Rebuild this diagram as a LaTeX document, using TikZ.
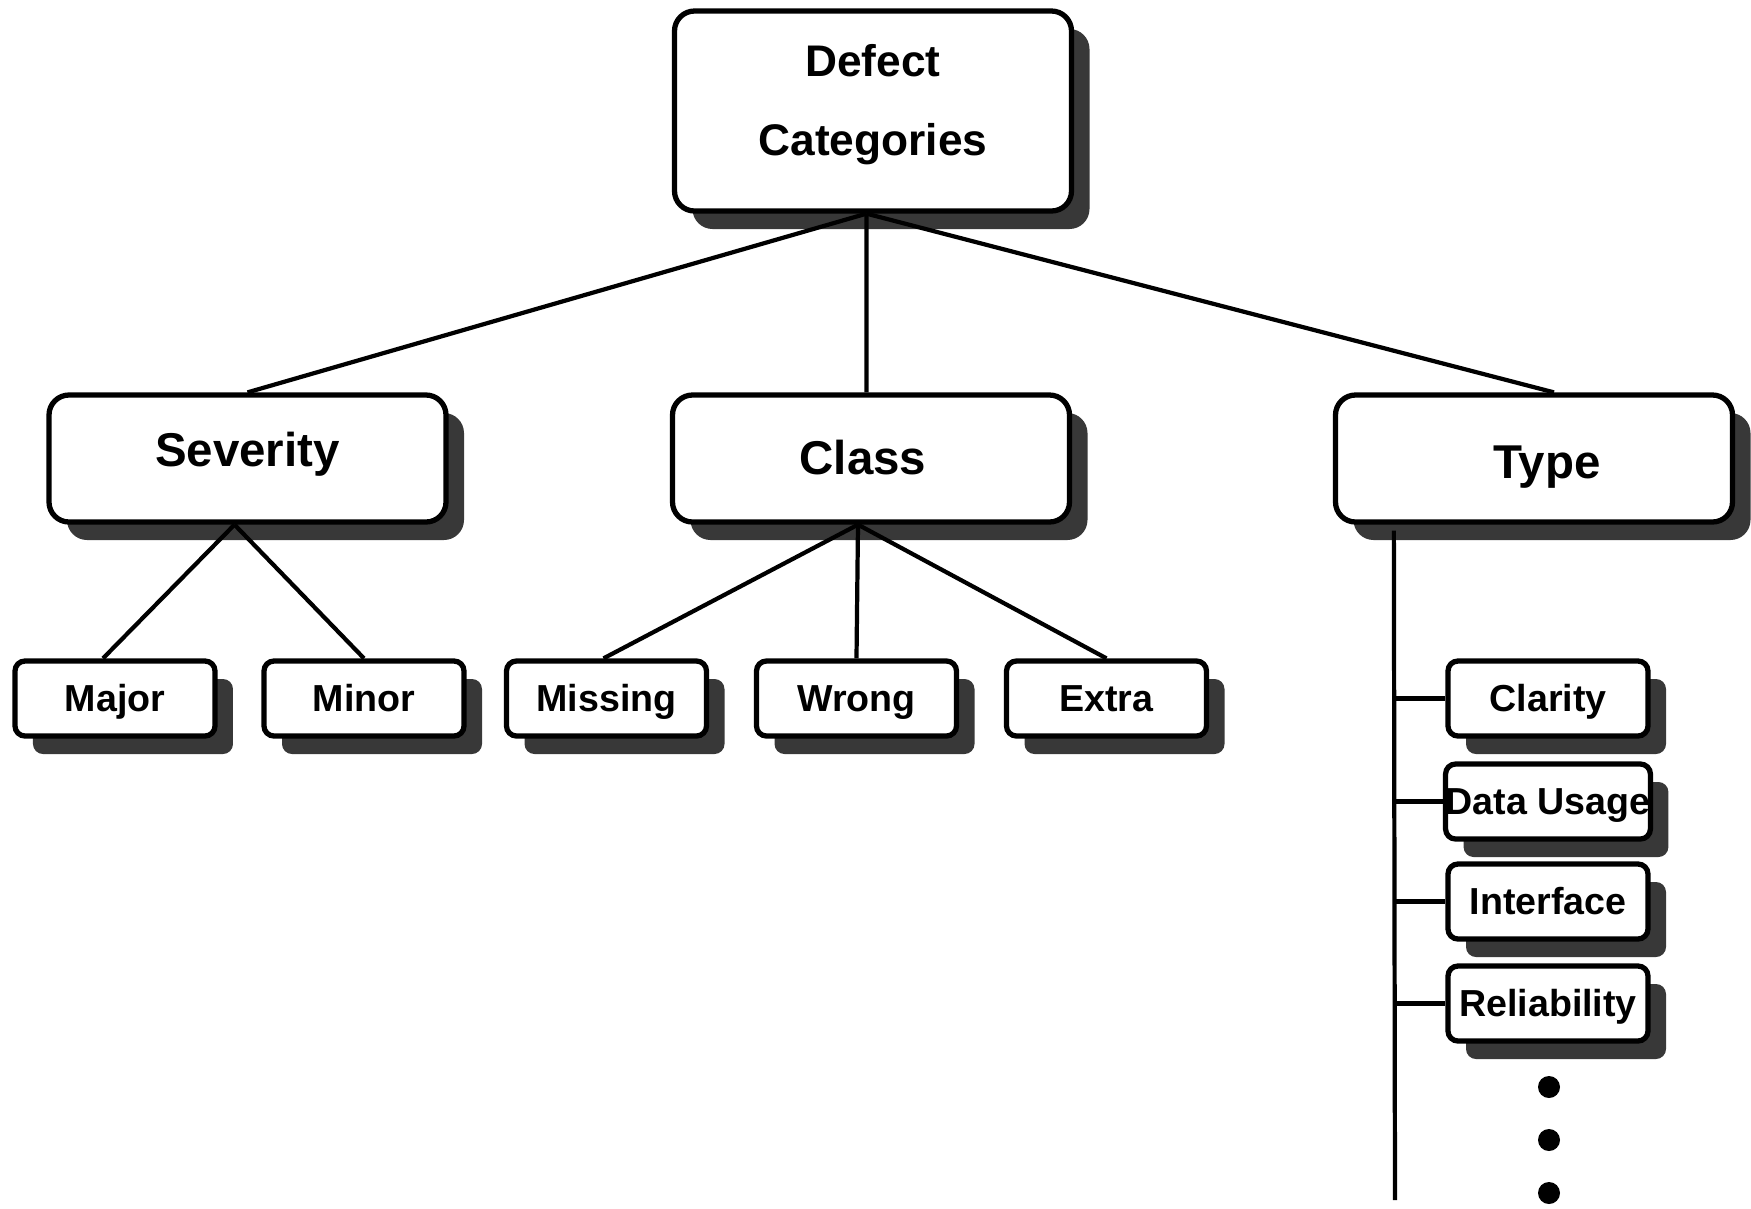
\documentclass[tikz,border=0pt]{standalone}
\usepackage{fontspec}
\setmainfont{Liberation Sans}
\usetikzlibrary{shadows}
\begin{document}
\begin{tikzpicture}[
    catbox/.style={draw, fill=white, line width=1.5pt, rounded corners=0.2cm,
      minimum width=3.97cm, minimum height=1.27cm, inner sep=0pt,
      text height=0.716em, text depth=0pt,
      font=\bfseries\fontsize{13.5}{16}\selectfont,
      drop shadow={shadow xshift=0.18cm, shadow yshift=-0.18cm, fill=black!78, opacity=1}},
    leafbox/.style={catbox, rounded corners=0.1cm, minimum width=2.0cm,
      minimum height=0.75cm, font=\bfseries\fontsize{10.7}{13}\selectfont},
    link/.style={line width=1.2pt}]
    \useasboundingbox (0,0) rectangle (17.51,-12.08);

    \node[catbox, minimum height=2.0cm, align=center, text height=31.4pt, text depth=6pt,
      font=\bfseries\fontsize{12.6}{22.4}\selectfont] (root) at (8.73,-1.11) {Defect\\Categories};
    \node[catbox] (severity) at (2.475,-4.585) {\raisebox{1.3pt}{Severity}};
    \node[catbox] (class) at (8.71,-4.585) {\raisebox{-1pt}{Class}\hspace*{0.16cm}};
    \node[catbox] (type) at (15.34,-4.585) {\hspace*{0.26cm}\raisebox{-2pt}{Type}};

    \node[leafbox] (major) at (1.15,-6.985) {Major};
    \node[leafbox] (minor) at (3.64,-6.985) {Minor};
    \node[leafbox] (missing) at (6.065,-6.985) {Missing};
    \node[leafbox] (wrong) at (8.565,-6.985) {Wrong};
    \node[leafbox] (extra) at (11.065,-6.985) {Extra};

    \node[leafbox] (clarity) at (15.48,-6.985) {Clarity};
    \node[leafbox] (datausage) at (15.48,-8.015) {Data Usage};
    \node[leafbox] (interface) at (15.48,-9.015) {Interface};
    \node[leafbox] (reliability) at (15.48,-10.035) {Reliability};

    \foreach \source/\sshift/\dest/\dshift in {root/-0.065cm/severity/0cm, root/-0.065cm/class/-0.045cm, root/-0.065cm/type/0.2cm, severity/-0.13cm/major/-0.12cm, severity/-0.13cm/minor/0cm, class/-0.13cm/missing/-0.03cm, class/-0.13cm/wrong/0cm, class/-0.13cm/extra/0cm}
      \draw[link] ([xshift=\sshift]\source.south) -- ([xshift=\dshift]\dest.north);

    % type list
    \coordinate (spine) at ([xshift=0.61cm, yshift=-0.06cm]type.south west);
    \coordinate (spineend) at (13.95,-12.00);
    \draw[link] (spine) -- (spineend);
    \foreach \leaf in {clarity, datausage, interface, reliability}
      \draw[link] (spine |- \leaf.west) -- (\leaf.west);
    \foreach \y in {-10.87, -11.40, -11.93}
      \fill (15.49,\y) circle (0.11);
\end{tikzpicture}
\end{document}
